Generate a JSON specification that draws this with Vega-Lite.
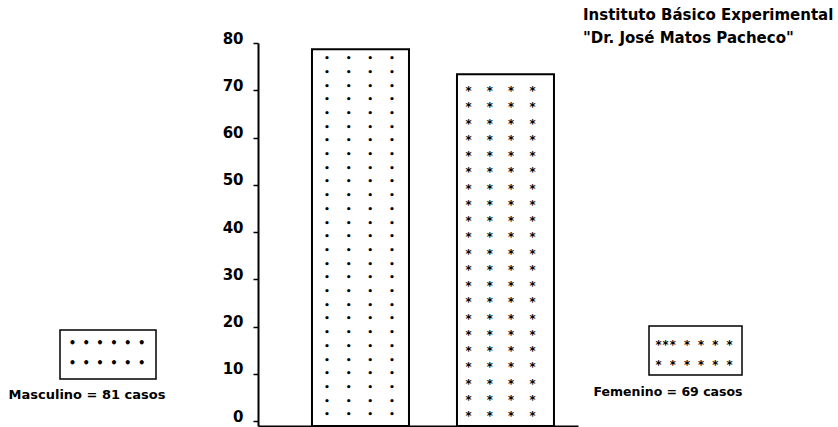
{
  "$schema": "https://vega.github.io/schema/vega-lite/v6.json",
  "width": 320,
  "height": 383,
  "autosize": {"type": "none"},
  "padding": {"left": 258, "top": 43, "right": 260, "bottom": 1},
  "background": "white",
  "config": {"view": {"stroke": null}, "font": "DejaVu Sans"},
  "title": {
    "text": ["Instituto Básico Experimental", "\"Dr. José Matos Pacheco\""],
    "anchor": "start",
    "frame": "group",
    "dx": 325,
    "dy": 19,
    "fontSize": 15,
    "fontWeight": "bold",
    "lineHeight": 23,
    "color": "black",
    "font": "DejaVu Sans"
  },
  "data": {
    "values": [
      {"sexo": "Masculino", "valor": 78.7, "casos": 81},
      {"sexo": "Femenino", "valor": 73.4, "casos": 69}
    ]
  },
  "layer": [
    {
      "mark": {"type": "bar", "fill": "white", "stroke": "black", "strokeWidth": 2},
      "encoding": {
        "x": {
          "field": "sexo",
          "type": "nominal",
          "sort": ["Masculino", "Femenino"],
          "scale": {"paddingInner": 0.331, "paddingOuter": 0.269, "align": 0.692},
          "axis": {"labels": false, "ticks": false, "title": null, "domainColor": "black", "domainWidth": 2}
        },
        "y": {
          "field": "valor",
          "type": "quantitative",
          "scale": {"domain": [-1, 80], "nice": false, "zero": false},
          "axis": {
            "values": [0, 10, 20, 30, 40, 50, 60, 70, 80],
            "title": null,
            "grid": false,
            "domainColor": "black",
            "domainWidth": 2,
            "tickColor": "black",
            "tickSize": 5,
            "tickWidth": 1.5,
            "labelFontSize": 15,
            "labelFontWeight": "bold",
            "labelColor": "black",
            "labelPadding": 10,
            "labelBaseline": "alphabetic",
            "labelFont": "DejaVu Sans"
          }
        },
        "y2": {"datum": -1}
      }
    },
    {
      "transform": [{"filter": "datum.sexo === 'Masculino'"}],
      "mark": {"type": "text", "font": "DejaVu Sans Mono", "fontSize": 9, "fontWeight": "bold", "lineHeight": 13.7, "baseline": "top", "align": "center", "dy": 5, "dx": -1, "color": "black"},
      "encoding": {
        "x": {"field": "sexo", "type": "nominal", "sort": ["Masculino", "Femenino"]},
        "y": {"field": "valor", "type": "quantitative"},
        "text": {"value": [
          "•\u00a0\u00a0\u00a0•\u00a0\u00a0\u00a0•\u00a0\u00a0\u00a0•",
          "•\u00a0\u00a0\u00a0•\u00a0\u00a0\u00a0•\u00a0\u00a0\u00a0•",
          "•\u00a0\u00a0\u00a0•\u00a0\u00a0\u00a0•\u00a0\u00a0\u00a0•",
          "•\u00a0\u00a0\u00a0•\u00a0\u00a0\u00a0•\u00a0\u00a0\u00a0•",
          "•\u00a0\u00a0\u00a0•\u00a0\u00a0\u00a0•\u00a0\u00a0\u00a0•",
          "•\u00a0\u00a0\u00a0•\u00a0\u00a0\u00a0•\u00a0\u00a0\u00a0•",
          "•\u00a0\u00a0\u00a0•\u00a0\u00a0\u00a0•\u00a0\u00a0\u00a0•",
          "•\u00a0\u00a0\u00a0•\u00a0\u00a0\u00a0•\u00a0\u00a0\u00a0•",
          "•\u00a0\u00a0\u00a0•\u00a0\u00a0\u00a0•\u00a0\u00a0\u00a0•",
          "•\u00a0\u00a0\u00a0•\u00a0\u00a0\u00a0•\u00a0\u00a0\u00a0•",
          "•\u00a0\u00a0\u00a0•\u00a0\u00a0\u00a0•\u00a0\u00a0\u00a0•",
          "•\u00a0\u00a0\u00a0•\u00a0\u00a0\u00a0•\u00a0\u00a0\u00a0•",
          "•\u00a0\u00a0\u00a0•\u00a0\u00a0\u00a0•\u00a0\u00a0\u00a0•",
          "•\u00a0\u00a0\u00a0•\u00a0\u00a0\u00a0•\u00a0\u00a0\u00a0•",
          "•\u00a0\u00a0\u00a0•\u00a0\u00a0\u00a0•\u00a0\u00a0\u00a0•",
          "•\u00a0\u00a0\u00a0•\u00a0\u00a0\u00a0•\u00a0\u00a0\u00a0•",
          "•\u00a0\u00a0\u00a0•\u00a0\u00a0\u00a0•\u00a0\u00a0\u00a0•",
          "•\u00a0\u00a0\u00a0•\u00a0\u00a0\u00a0•\u00a0\u00a0\u00a0•",
          "•\u00a0\u00a0\u00a0•\u00a0\u00a0\u00a0•\u00a0\u00a0\u00a0•",
          "•\u00a0\u00a0\u00a0•\u00a0\u00a0\u00a0•\u00a0\u00a0\u00a0•",
          "•\u00a0\u00a0\u00a0•\u00a0\u00a0\u00a0•\u00a0\u00a0\u00a0•",
          "•\u00a0\u00a0\u00a0•\u00a0\u00a0\u00a0•\u00a0\u00a0\u00a0•",
          "•\u00a0\u00a0\u00a0•\u00a0\u00a0\u00a0•\u00a0\u00a0\u00a0•",
          "•\u00a0\u00a0\u00a0•\u00a0\u00a0\u00a0•\u00a0\u00a0\u00a0•",
          "•\u00a0\u00a0\u00a0•\u00a0\u00a0\u00a0•\u00a0\u00a0\u00a0•",
          "•\u00a0\u00a0\u00a0•\u00a0\u00a0\u00a0•\u00a0\u00a0\u00a0•",
          "•\u00a0\u00a0\u00a0•\u00a0\u00a0\u00a0•\u00a0\u00a0\u00a0•"
        ]}
      }
    },
    {
      "transform": [{"filter": "datum.sexo === 'Femenino'"}],
      "mark": {"type": "text", "font": "DejaVu Sans Mono", "fontSize": 11.8, "fontWeight": "bold", "lineHeight": 16.25, "baseline": "top", "align": "center", "dy": 12, "dx": -5, "color": "black"},
      "encoding": {
        "x": {"field": "sexo", "type": "nominal", "sort": ["Masculino", "Femenino"]},
        "y": {"field": "valor", "type": "quantitative"},
        "text": {"value": [
          "*\u00a0\u00a0*\u00a0\u00a0*\u00a0\u00a0*",
          "*\u00a0\u00a0*\u00a0\u00a0*\u00a0\u00a0*",
          "*\u00a0\u00a0*\u00a0\u00a0*\u00a0\u00a0*",
          "*\u00a0\u00a0*\u00a0\u00a0*\u00a0\u00a0*",
          "*\u00a0\u00a0*\u00a0\u00a0*\u00a0\u00a0*",
          "*\u00a0\u00a0*\u00a0\u00a0*\u00a0\u00a0*",
          "*\u00a0\u00a0*\u00a0\u00a0*\u00a0\u00a0*",
          "*\u00a0\u00a0*\u00a0\u00a0*\u00a0\u00a0*",
          "*\u00a0\u00a0*\u00a0\u00a0*\u00a0\u00a0*",
          "*\u00a0\u00a0*\u00a0\u00a0*\u00a0\u00a0*",
          "*\u00a0\u00a0*\u00a0\u00a0*\u00a0\u00a0*",
          "*\u00a0\u00a0*\u00a0\u00a0*\u00a0\u00a0*",
          "*\u00a0\u00a0*\u00a0\u00a0*\u00a0\u00a0*",
          "*\u00a0\u00a0*\u00a0\u00a0*\u00a0\u00a0*",
          "*\u00a0\u00a0*\u00a0\u00a0*\u00a0\u00a0*",
          "*\u00a0\u00a0*\u00a0\u00a0*\u00a0\u00a0*",
          "*\u00a0\u00a0*\u00a0\u00a0*\u00a0\u00a0*",
          "*\u00a0\u00a0*\u00a0\u00a0*\u00a0\u00a0*",
          "*\u00a0\u00a0*\u00a0\u00a0*\u00a0\u00a0*",
          "*\u00a0\u00a0*\u00a0\u00a0*\u00a0\u00a0*",
          "*\u00a0\u00a0*\u00a0\u00a0*\u00a0\u00a0*"
        ]}
      }
    },
    {
      "transform": [{"filter": "datum.sexo === 'Masculino'"}],
      "mark": {"type": "rect", "fill": "white", "stroke": "black", "strokeWidth": 1.5},
      "encoding": {
        "x": {"value": -198},
        "x2": {"value": -102},
        "y": {"value": 287},
        "y2": {"value": 336}
      }
    },
    {
      "transform": [{"filter": "datum.sexo === 'Masculino'"}],
      "mark": {"type": "text", "font": "DejaVu Sans Mono", "fontSize": 11.5, "fontWeight": "bold", "lineHeight": 20, "baseline": "top", "align": "center", "color": "black"},
      "encoding": {
        "x": {"value": -151},
        "y": {"value": 295},
        "text": {"value": ["•\u00a0•\u00a0•\u00a0•\u00a0•\u00a0•", "•\u00a0•\u00a0•\u00a0•\u00a0•\u00a0•"]}
      }
    },
    {
      "transform": [{"filter": "datum.sexo === 'Masculino'"}],
      "mark": {"type": "text", "font": "DejaVu Sans", "fontSize": 13, "fontWeight": "bold", "baseline": "middle", "align": "center", "color": "black"},
      "encoding": {
        "x": {"value": -171},
        "y": {"value": 352},
        "text": {"value": "Masculino = 81 casos"}
      }
    },
    {
      "transform": [{"filter": "datum.sexo === 'Femenino'"}],
      "mark": {"type": "rect", "fill": "white", "stroke": "black", "strokeWidth": 1.5},
      "encoding": {
        "x": {"value": 391},
        "x2": {"value": 484},
        "y": {"value": 283},
        "y2": {"value": 332}
      }
    },
    {
      "transform": [{"filter": "datum.sexo === 'Femenino'"}],
      "mark": {"type": "text", "font": "DejaVu Sans Mono", "fontSize": 11.8, "fontWeight": "bold", "lineHeight": 20, "baseline": "top", "align": "left", "color": "black"},
      "encoding": {
        "x": {"value": 397},
        "y": {"value": 297},
        "text": {"value": ["***\u00a0*\u00a0*\u00a0*\u00a0*", "*\u00a0*\u00a0*\u00a0*\u00a0*\u00a0*"]}
      }
    },
    {
      "transform": [{"filter": "datum.sexo === 'Femenino'"}],
      "mark": {"type": "text", "font": "DejaVu Sans", "fontSize": 12.5, "fontWeight": "bold", "baseline": "middle", "align": "center", "color": "black"},
      "encoding": {
        "x": {"value": 410},
        "y": {"value": 349},
        "text": {"value": "Femenino = 69 casos"}
      }
    }
  ]
}
